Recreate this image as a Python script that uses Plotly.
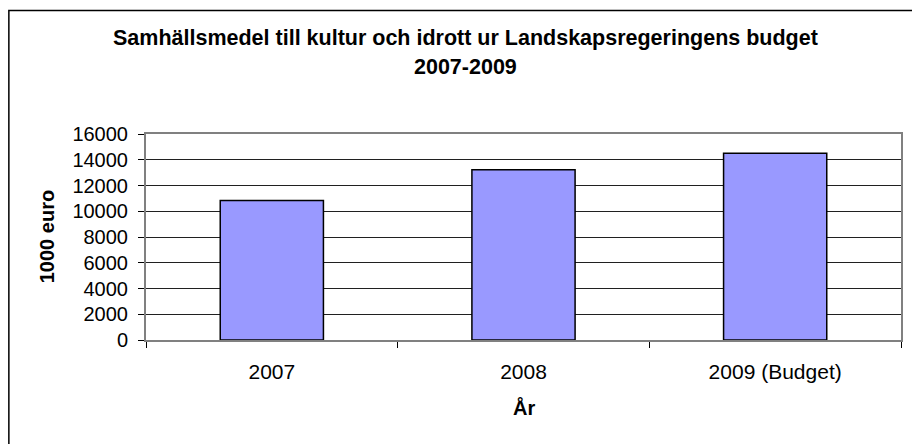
import plotly.graph_objects as go

# --- data ---
years = ["2007", "2008", "2009 (Budget)"]
amounts = [10840, 13230, 14500]  # 1000 euro
y_ticks = [0, 2000, 4000, 6000, 8000, 10000, 12000, 14000, 16000]
y_tick_labels = [str(v) for v in y_ticks]

title_line1 = "Samhällsmedel till kultur och idrott ur Landskapsregeringens budget"
title_line2 = "2007-2009"

FONT = "Liberation Sans, Arial, sans-serif"

# plot area in pixels (from the reference)
W, H = 912, 444
L, R, T, B = 146, 9, 134, 104
pw, ph = W - L - R, H - T - B


def px_x(x):
    return (x - L) / pw


def px_y(y):
    return (H - B - y) / ph


fig = go.Figure()
fig.add_trace(go.Bar(
    x=years, y=amounts,
    marker=dict(color="#9999FF", line=dict(color="black", width=1.5)),
    hoverinfo="x+y",
))

fig.update_layout(
    width=W, height=H,
    margin=dict(l=L, r=R, t=T, b=B),
    paper_bgcolor="white", plot_bgcolor="white",
    font=dict(family=FONT, color="black", size=21),
    bargap=0.59,
    showlegend=False,
)

fig.update_xaxes(
    type="category",
    showline=True, linecolor="#808080", linewidth=2, mirror=True,
    ticks="outside", ticklen=6, tickcolor="black", tickson="boundaries",
    ticklabelstandoff=12,
    showgrid=False,
    tickfont=dict(size=21),
)
fig.update_yaxes(
    range=[0, 16000],
    tickvals=y_ticks, ticktext=y_tick_labels,
    showline=True, linecolor="#808080", linewidth=2, mirror=True,
    ticks="outside", ticklen=6, tickcolor="black",
    ticklabelstandoff=6,
    showgrid=True, gridcolor="#202020", gridwidth=1,
    zeroline=True, zerolinecolor="black", zerolinewidth=1,
    tickfont=dict(size=20),
)

# chart title, two centred bold lines
for txt, ypx in [(title_line1, 38), (title_line2, 67)]:
    fig.add_annotation(text=f"<b>{txt}</b>", xref="paper", yref="paper",
                       x=px_x(466), y=px_y(ypx), xanchor="center", yanchor="middle",
                       showarrow=False, font=dict(size=21.5))

# axis titles as annotations so they sit where the reference has them
fig.add_annotation(text="<b>År</b>", xref="paper", yref="paper",
                   x=0.5, y=px_y(407), xanchor="center", yanchor="middle",
                   showarrow=False, font=dict(size=20))
fig.add_annotation(text="<b>1000 euro</b>", xref="paper", yref="paper",
                   x=px_x(47), y=0.5, xanchor="center", yanchor="middle",
                   textangle=-90, showarrow=False, font=dict(size=20))

# outer chart frame (only left/top edges visible in the reference)
fig.add_shape(type="rect", xref="paper", yref="paper",
              x0=px_x(8.5), x1=px_x(W + 10), y0=px_y(H + 10), y1=px_y(10.5),
              line=dict(color="black", width=1.5), layer="below")

# drop the browser's default body margin so the figure sits at 0,0
fig.write_html("out.html", config={"displayModeBar": False},
               post_script="document.body.style.margin='0';")
